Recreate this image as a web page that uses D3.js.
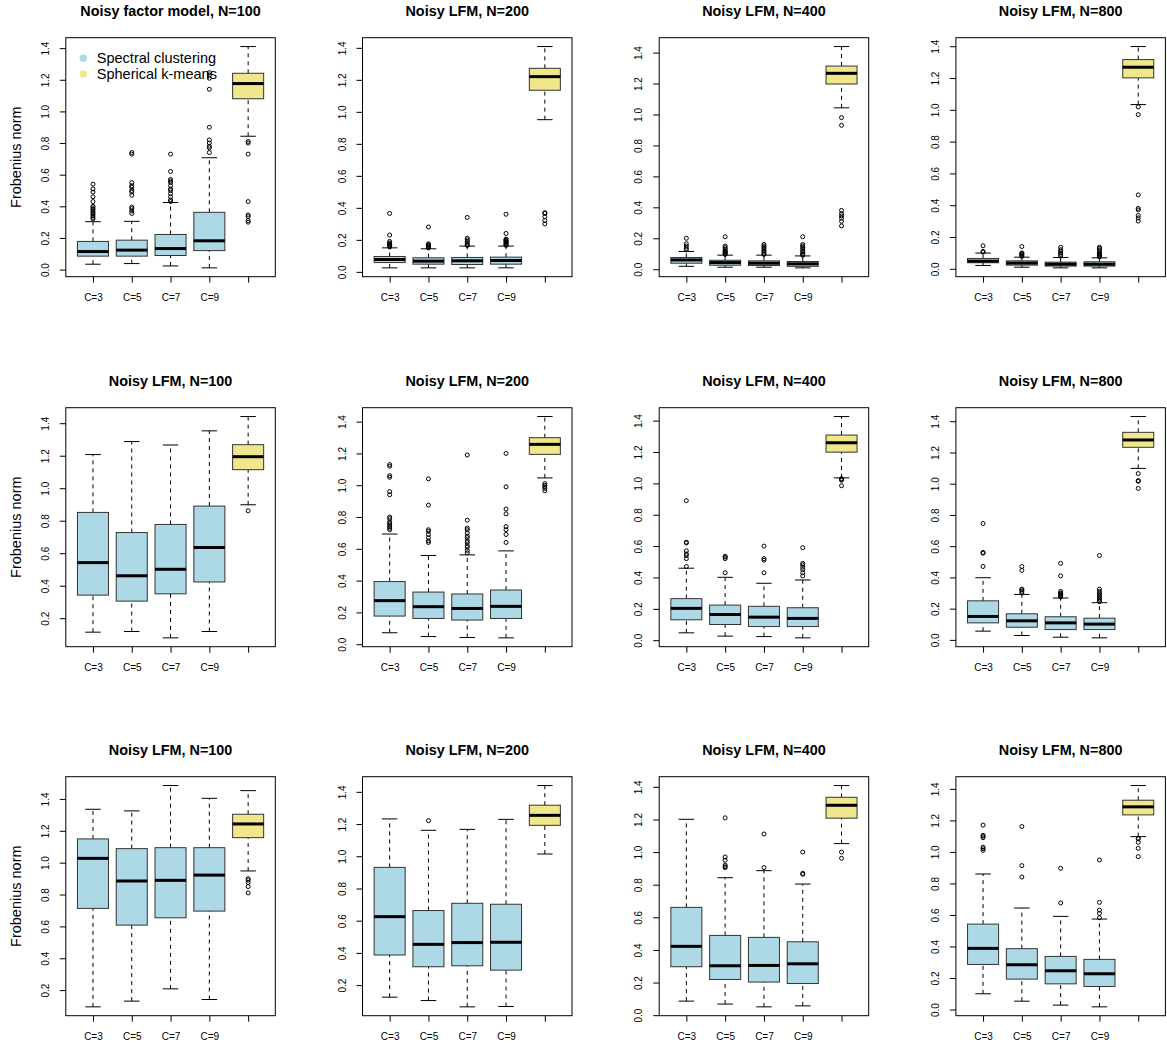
<!DOCTYPE html>
<html><head><meta charset="utf-8">
<script src="https://cdn.jsdelivr.net/npm/d3@7/dist/d3.min.js"></script>
<style>
body{margin:0;background:#fff}
svg{display:block}
text{font-family:"Liberation Sans",Arial,Helvetica,sans-serif;fill:#000}
</style>
</head><body>
<svg id="chart" width="1167" height="1049"></svg>
<script>
// ---------------- data ----------------
const categories = ["C=3", "C=5", "C=7", "C=9", ""];
const seriesNames = ["Spectral clustering", "Spherical k-means"];
const yAxisLabel = "Frobenius norm";
const yTickValues = [0.0, 0.2, 0.4, 0.6, 0.8, 1.0, 1.2, 1.4];
const panelTitles = [
  "Noisy factor model, N=100", "Noisy LFM, N=200", "Noisy LFM, N=400", "Noisy LFM, N=800",
  "Noisy LFM, N=100", "Noisy LFM, N=200", "Noisy LFM, N=400", "Noisy LFM, N=800",
  "Noisy LFM, N=100", "Noisy LFM, N=200", "Noisy LFM, N=400", "Noisy LFM, N=800"
];
// box stats per group: [lower whisker, Q1, median, Q3, upper whisker]
const p1Stats = [[0.034,0.085,0.114,0.178,0.303],[0.038,0.085,0.123,0.186,0.305],[0.023,0.089,0.133,0.222,0.424],[0.011,0.120,0.182,0.362,0.707],[0.843,1.080,1.176,1.241,1.410]];
const p1Out = [[0.32,0.33,0.34,0.35,0.36,0.37,0.38,0.39,0.40,0.43,0.46,0.49,0.51,0.54],[0.355,0.37,0.385,0.395,0.47,0.49,0.50,0.52,0.53,0.55,0.73,0.74],[0.43,0.44,0.46,0.48,0.50,0.51,0.53,0.55,0.56,0.57,0.62,0.73],[0.74,0.77,0.78,0.80,0.82,0.90,1.14,1.21,1.23,1.245],[0.81,0.80,0.73,0.43,0.345,0.335,0.31,0.30]];

const p2Stats = [[0.025,0.058,0.077,0.096,0.150],[0.025,0.048,0.067,0.088,0.144],[0.025,0.046,0.069,0.090,0.161],[0.025,0.048,0.071,0.092,0.161],[0.951,1.135,1.220,1.272,1.408]];
const p2Out = [[0.155,0.16,0.165,0.17,0.175,0.18,0.19,0.23,0.365],[0.15,0.155,0.16,0.165,0.17,0.175,0.28],[0.165,0.17,0.18,0.19,0.20,0.21,0.34],[0.165,0.17,0.175,0.18,0.185,0.19,0.195,0.20,0.205,0.24,0.36],[0.37,0.365,0.345,0.32,0.30]];

const p3Stats = [[0.019,0.039,0.060,0.076,0.115],[0.013,0.026,0.043,0.058,0.091],[0.013,0.024,0.039,0.054,0.091],[0.009,0.019,0.035,0.050,0.086],[1.043,1.197,1.266,1.313,1.439]];
const p3Out = [[0.125,0.135,0.15,0.165,0.20],[0.095,0.10,0.105,0.11,0.115,0.12,0.13,0.14,0.15,0.21],[0.095,0.10,0.11,0.12,0.13,0.14,0.15,0.16],[0.09,0.095,0.10,0.11,0.12,0.13,0.14,0.15,0.16,0.21],[0.98,0.93,0.38,0.36,0.345,0.33,0.31,0.28]];

const p4Stats = [[0.021,0.038,0.048,0.065,0.099],[0.010,0.023,0.036,0.050,0.073],[0.006,0.017,0.029,0.042,0.071],[0.006,0.017,0.029,0.044,0.069],[1.033,1.201,1.268,1.316,1.398]];
const p4Out = [[0.105,0.11,0.145],[0.078,0.085,0.09,0.095,0.10,0.14],[0.08,0.09,0.10,0.11,0.12,0.135],[0.075,0.08,0.085,0.09,0.095,0.10,0.11,0.12,0.13,0.135],[1.019,0.97,0.465,0.38,0.37,0.335,0.32,0.30]];

const p5Stats = [[0.114,0.342,0.542,0.851,1.207],[0.118,0.305,0.461,0.727,1.287],[0.079,0.350,0.501,0.777,1.266],[0.118,0.423,0.635,0.890,1.353],[0.898,1.114,1.194,1.268,1.441]];
const p5Out = [[],[],[],[],[0.861]];

const p6Stats = [[0.072,0.177,0.274,0.394,0.693],[0.048,0.162,0.236,0.328,0.558],[0.042,0.152,0.225,0.316,0.562],[0.040,0.162,0.238,0.341,0.587],[1.046,1.194,1.257,1.299,1.432]];
const p6Out = [[0.72,0.73,0.74,0.75,0.76,0.77,0.79,0.80,0.94,0.96,1.05,1.06,1.12,1.13],[0.64,0.65,0.67,0.69,0.71,0.72,0.875,1.04],[0.575,0.59,0.61,0.62,0.64,0.65,0.67,0.68,0.70,0.72,0.73,0.78,1.19],[0.64,0.69,0.72,0.74,0.82,0.85,0.99,1.20],[1.01,1.0,0.99,0.98,0.965]];

const p7Stats = [[0.047,0.130,0.203,0.265,0.459],[0.026,0.100,0.164,0.224,0.401],[0.023,0.087,0.147,0.216,0.363],[0.015,0.087,0.139,0.207,0.384],[1.035,1.199,1.259,1.308,1.426]];
const p7Out = [[0.47,0.52,0.54,0.55,0.57,0.62,0.625,0.89],[0.43,0.52,0.53,0.535],[0.43,0.51,0.52,0.60],[0.41,0.43,0.45,0.465,0.48,0.49,0.59],[1.03,1.02,1.025,0.985]];

const p8Stats = [[0.056,0.109,0.150,0.250,0.398],[0.028,0.081,0.122,0.167,0.291],[0.017,0.066,0.109,0.148,0.268],[0.013,0.066,0.101,0.139,0.238],[1.098,1.233,1.280,1.329,1.430]];
const p8Out = [[0.47,0.555,0.56,0.745],[0.30,0.31,0.32,0.325,0.445,0.47],[0.275,0.28,0.285,0.29,0.295,0.30,0.31,0.41,0.49],[0.245,0.25,0.26,0.27,0.28,0.29,0.30,0.31,0.325,0.54],[1.065,1.02,1.015,0.97]];

const p9Stats = [[0.095,0.713,1.027,1.149,1.335],[0.131,0.608,0.885,1.088,1.325],[0.208,0.654,0.889,1.094,1.484],[0.141,0.696,0.922,1.094,1.404],[0.948,1.157,1.243,1.304,1.452]];
const p9Out = [[],[],[],[],[0.90,0.89,0.875,0.85,0.81]];

const p10Stats = [[0.125,0.387,0.625,0.931,1.232],[0.104,0.314,0.453,0.663,1.161],[0.065,0.320,0.464,0.708,1.167],[0.067,0.293,0.466,0.702,1.229],[1.014,1.192,1.254,1.317,1.439]];
const p10Out = [[],[1.221],[],[],[]];

const p11Stats = [[0.086,0.297,0.422,0.661,1.201],[0.068,0.219,0.303,0.489,0.843],[0.051,0.203,0.305,0.477,0.886],[0.057,0.194,0.315,0.450,0.804],[1.052,1.208,1.287,1.336,1.408]];
const p11Out = [[],[0.905,0.91,0.92,0.95,0.97,1.21],[0.905,1.111],[0.864,0.87,1.0],[1.0,0.962]];

const p12Stats = [[0.100,0.286,0.388,0.542,0.860],[0.053,0.193,0.284,0.386,0.644],[0.028,0.163,0.246,0.337,0.591],[0.017,0.146,0.227,0.318,0.574],[1.097,1.235,1.286,1.328,1.421]];
const p12Out = [[1.01,1.02,1.03,1.09,1.10,1.105,1.17],[0.841,0.913,1.161],[0.676,0.896],[0.582,0.61,0.631,0.68,0.949],[1.087,1.083,1.061,1.023,0.97]];

const allStats = [p1Stats,p2Stats,p3Stats,p4Stats,p5Stats,p6Stats,p7Stats,p8Stats,p9Stats,p10Stats,p11Stats,p12Stats];
const allOut = [p1Out,p2Out,p3Out,p4Out,p5Out,p6Out,p7Out,p8Out,p9Out,p10Out,p11Out,p12Out];

// ---------------- layout / style ----------------
const colors = ["#ADD8E6","#ADD8E6","#ADD8E6","#ADD8E6","#F0E68C"];
const legendColors = ["#ADD8E6", "#F0E68C"];
const colLeft0 = 65.8, colStep = 296.7;
const rowTops = [37.7, 407.7, 776.7];
const PW = 209.5, PH = 239;

const svg = d3.select("#chart");

allStats.forEach((stats, i) => {
  const outs = allOut[i];
  const col = i % 4, row = Math.floor(i / 4);
  const L = colLeft0 + col * colStep, T = rowTops[row];
  const g = svg.append("g");

  const x = d3.scaleLinear().domain([0.3, 5.7]).range([L, L + PW]);
  const vals = stats.flat().concat(outs.flat());
  const mn = d3.min(vals), mx = d3.max(vals), r = mx - mn;
  const y = d3.scaleLinear().domain([mn - 0.04 * r, mx + 0.04 * r]).range([T + PH, T]);

  const unit = x(1) - x(0);
  const hw = 0.4 * unit, cap = hw / 2;

  stats.forEach((s, j) => {
    const cx = x(j + 1);
    const bg = g.append("g");
    // whiskers
    bg.append("line").attr("x1", cx).attr("x2", cx).attr("y1", y(s[0])).attr("y2", y(s[1]))
      .attr("stroke", "#000").attr("stroke-dasharray", "4,4");
    bg.append("line").attr("x1", cx).attr("x2", cx).attr("y1", y(s[3])).attr("y2", y(s[4]))
      .attr("stroke", "#000").attr("stroke-dasharray", "4,4");
    // caps
    [s[0], s[4]].forEach(v => {
      bg.append("line").attr("x1", cx - cap).attr("x2", cx + cap).attr("y1", y(v)).attr("y2", y(v))
        .attr("stroke", "#000").attr("stroke-width", 1);
    });
    // box
    bg.append("rect").attr("x", cx - hw).attr("width", 2 * hw)
      .attr("y", y(s[3])).attr("height", y(s[1]) - y(s[3]))
      .attr("fill", colors[j]).attr("stroke", "#333").attr("stroke-width", 1);
    // median
    bg.append("line").attr("x1", cx - hw).attr("x2", cx + hw).attr("y1", y(s[2])).attr("y2", y(s[2]))
      .attr("stroke", "#000").attr("stroke-width", 3);
    // outliers
    bg.selectAll("circle").data(outs[j]).join("circle")
      .attr("cx", cx).attr("cy", d => y(d)).attr("r", 2)
      .attr("fill", "none").attr("stroke", "#000").attr("stroke-width", 1);
  });

  // frame
  g.append("rect").attr("x", L).attr("y", T).attr("width", PW).attr("height", PH)
    .attr("fill", "none").attr("stroke", "#000").attr("stroke-width", 1);

  // y axis
  const [d0, d1] = y.domain();
  const yt = yTickValues.filter(v => v >= d0 && v <= d1);
  const ya = g.append("g").attr("transform", `translate(${L},0)`)
    .call(d3.axisLeft(y).tickValues(yt).tickFormat(d3.format(".1f")).tickSize(6));
  ya.select(".domain").remove();
  ya.selectAll(".tick line").attr("stroke", "#000");
  ya.selectAll(".tick text")
    .attr("x", null).attr("dy", null)
    .attr("text-anchor", "middle")
    .attr("transform", "translate(-17,0) rotate(-90)")
    .style("font-size", "10px").style("font-family", '"Liberation Sans",Arial,sans-serif').attr("fill", "#000");

  // x axis
  const xa = g.append("g").attr("transform", `translate(0,${T + PH})`)
    .call(d3.axisBottom(x).tickValues([1, 2, 3, 4, 5]).tickFormat((d, k) => categories[k]).tickSize(6));
  xa.select(".domain").remove();
  xa.selectAll(".tick line").attr("stroke", "#000");
  xa.selectAll(".tick text").attr("y", 17.5)
    .style("font-size", "10px").style("font-family", '"Liberation Sans",Arial,sans-serif').attr("fill", "#000");

  // title
  g.append("text").attr("x", L + PW / 2).attr("y", T - 21.5).attr("text-anchor", "middle")
    .style("font-size", "14.4px").style("font-weight", "bold").text(panelTitles[i]);

  // y label
  if (col === 0) {
    g.append("text").attr("transform", `translate(21,${T + PH / 2}) rotate(-90)`)
      .attr("text-anchor", "middle").style("font-size", "14.5px").text(yAxisLabel);
  }

  // legend
  if (i === 0) {
    seriesNames.forEach((nm, k) => {
      const ly = T + 20.6 + k * 15.7;
      g.append("circle").attr("cx", L + 17.5).attr("cy", ly).attr("r", 3.7).attr("fill", legendColors[k]);
      g.append("text").attr("x", L + 31).attr("y", ly).attr("dy", "0.35em")
        .style("font-size", "14.5px").text(nm);
    });
  }
});
</script>
</body></html>
